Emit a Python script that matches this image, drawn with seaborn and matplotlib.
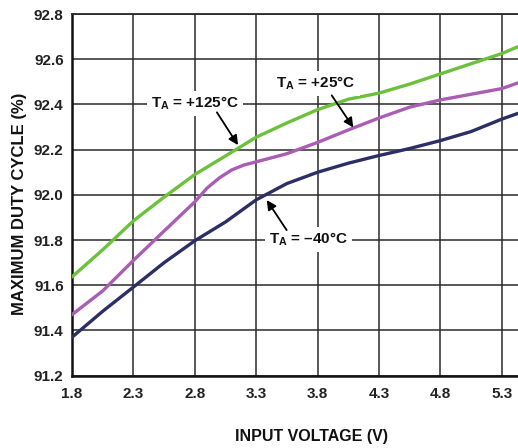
import matplotlib
matplotlib.use("Agg")
import matplotlib.pyplot as plt
import seaborn as sns
import pandas as pd

# ---- data ----
voltage = [1.8, 2.05, 2.3, 2.55, 2.8, 3.05, 3.3, 3.55, 3.8, 4.05, 4.3, 4.55, 4.8, 5.05, 5.3, 5.43]
duty_p125 = [91.637, 91.757, 91.885, 91.99, 92.09, 92.172, 92.255, 92.318, 92.377, 92.423, 92.45, 92.49, 92.535, 92.58, 92.625, 92.655]
duty_m40 = [91.37, 91.485, 91.592, 91.70, 91.797, 91.88, 91.978, 92.05, 92.10, 92.14, 92.174, 92.205, 92.24, 92.28, 92.335, 92.36]
voltage_p25 = [1.8, 2.05, 2.3, 2.55, 2.8, 2.9, 3.0, 3.1, 3.2, 3.3, 3.55, 3.8, 4.05, 4.3, 4.55, 4.8, 5.05, 5.3, 5.43]
duty_p25 = [91.47, 91.575, 91.71, 91.84, 91.969, 92.03, 92.075, 92.11, 92.132, 92.146, 92.182, 92.232, 92.287, 92.34, 92.388, 92.42, 92.445, 92.47, 92.495]
series_names = ["+125", "+25", "-40"]
x_ticks = [1.8, 2.3, 2.8, 3.3, 3.8, 4.3, 4.8, 5.3]
y_ticks = [91.2, 91.4, 91.6, 91.8, 92.0, 92.2, 92.4, 92.6, 92.8]

df = pd.concat([
    pd.DataFrame({"voltage": v, "duty": d, "temp": n})
    for v, d, n in zip([voltage, voltage_p25, voltage], [duty_p125, duty_p25, duty_m40], series_names)
])

sns.set_theme(style="white")
plt.rcParams["font.family"] = ["Liberation Sans", "DejaVu Sans"]
plt.rcParams["font.weight"] = "bold"
plt.rcParams["mathtext.fontset"] = "custom"
plt.rcParams["mathtext.rm"] = "Liberation Sans:bold"
plt.rcParams["mathtext.it"] = "Liberation Sans:bold"
plt.rcParams["mathtext.bf"] = "Liberation Sans:bold"

W, H = 518, 448
fig = plt.figure(figsize=(W / 100, H / 100), dpi=100)

ax = fig.add_axes([72 / W, 1 - 375.7 / H, 1 - 72 / W, (375.7 - 14) / H])

palette = {"+125": "#6cc13c", "+25": "#a95db3", "-40": "#2c2f66"}
sns.lineplot(data=df, x="voltage", y="duty", hue="temp", palette=palette,
             estimator=None, legend=False, lw=2.4, ax=ax, zorder=3)
for ln in ax.lines:
    ln.set_solid_joinstyle("round")

ax.set_xlim(1.8, 5.432)
ax.set_ylim(91.2, 92.8)
ax.set_xticks(x_ticks)
ax.set_xticklabels([f"{v:.1f}" for v in x_ticks])
ax.set_yticks(y_ticks)
ax.set_yticklabels([f"{v:.1f}" for v in y_ticks])
ax.tick_params(length=0, labelsize=11, colors="#222222")
ax.tick_params(axis="y", pad=6)
ax.tick_params(axis="x", pad=8)
ax.grid(True, color="#2a2a2a", lw=1.1)
ax.set_axisbelow(True)
for s in ["left", "bottom"]:
    ax.spines[s].set_color("#111111")
    ax.spines[s].set_linewidth(1.8)
ax.spines["top"].set_color("#2a2a2a")
ax.spines["top"].set_linewidth(1.3)
ax.spines["right"].set_visible(False)

ax.set_xlabel("INPUT VOLTAGE (V)", fontsize=11.5, fontweight="bold", color="#111111")
ax.xaxis.set_label_coords(0.538, -0.148)
ax.set_ylabel("MAXIMUM DUTY CYCLE (%)", fontsize=12, fontweight="bold", color="#111111")
ax.yaxis.set_label_coords(-0.101, 0.475)

bbox = dict(boxstyle="square,pad=0.25", fc="white", ec="none")
arrow = dict(arrowstyle="-|>", color="black", lw=1.3, mutation_scale=14, shrinkA=0, shrinkB=0)
ax.text(2.80, 92.404, r"T$_\mathrm{A}$ = +125°C", ha="center", va="center", fontsize=11,
        fontweight="bold", color="#111111", bbox=bbox, zorder=5)
ax.annotate("", xy=(3.152, 92.22), xytext=(2.98, 92.365), arrowprops=arrow, zorder=5)
ax.text(3.789, 92.492, r"T$_\mathrm{A}$ = +25°C", ha="center", va="center", fontsize=11,
        fontweight="bold", color="#111111", bbox=bbox, zorder=5)
ax.annotate("", xy=(4.091, 92.298), xytext=(3.915, 92.44), arrowprops=arrow, zorder=5)
ax.text(3.728, 91.804, r"T$_\mathrm{A}$ = –40°C", ha="center", va="center", fontsize=11,
        fontweight="bold", color="#111111", bbox=bbox, zorder=5)
ax.annotate("", xy=(3.386, 91.977), xytext=(3.548, 91.844), arrowprops=arrow, zorder=5)

fig.savefig("out.png", dpi=100)
